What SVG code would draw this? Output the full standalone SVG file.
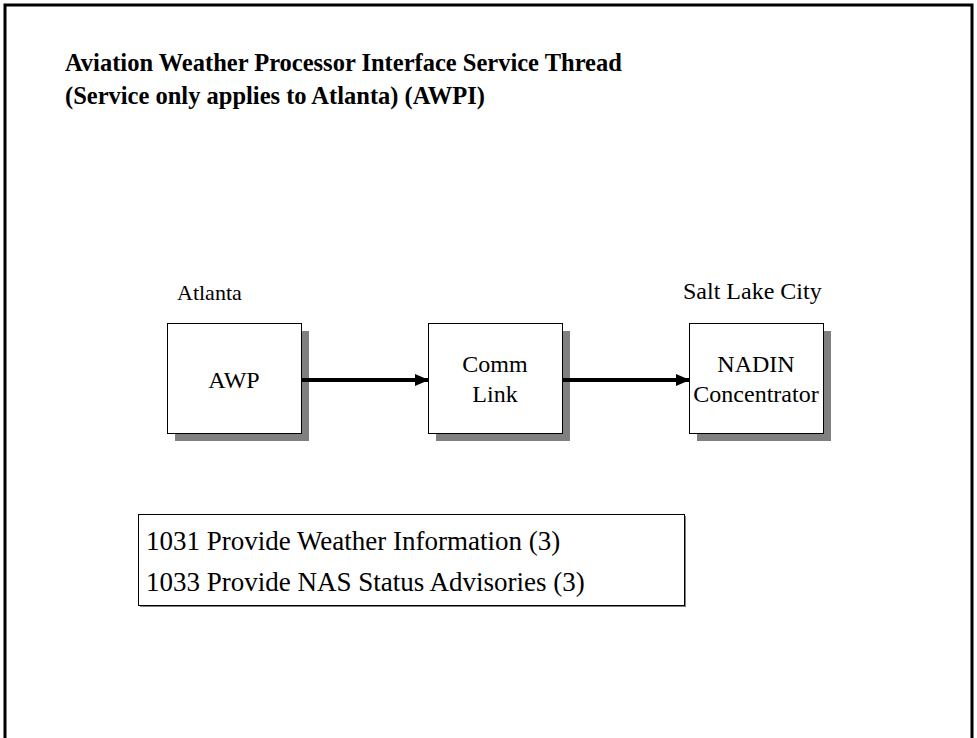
<svg xmlns="http://www.w3.org/2000/svg" width="977" height="738" viewBox="0 0 977 738">
<defs>
<style>
.t{font-family:"Liberation Serif","Times New Roman",serif;fill:#000}
.title{font-size:24.5px;font-weight:bold}
.box{fill:#fff;stroke:#000;stroke-width:1}
.sh{fill:#808080}
.lbl{font-size:24px;text-anchor:middle}
.conn{stroke:#000;stroke-width:4;fill:none}
.svc{font-size:27px}
</style>
<marker id="ah" markerWidth="14" markerHeight="12" refX="13" refY="6" orient="auto" markerUnits="userSpaceOnUse">
<path d="M0,0 L14,6 L0,12 Z" fill="#000"/>
</marker>
</defs>
<rect width="977" height="738" fill="#fff"/>
<path d="M5,738 V5 H972 V738" fill="none" stroke="#000" stroke-width="3"/>
<g id="title">
<text class="t title" x="65" y="71">Aviation Weather Processor Interface Service Thread</text>
<text class="t title" x="65" y="104">(Service only applies to Atlanta) (AWPI)</text>
</g>
<text class="t" x="177" y="300" font-size="22">Atlanta</text>
<text class="t" x="683" y="299" font-size="24">Salt Lake City</text>
<g id="awp">
<rect class="sh" x="175" y="331" width="134" height="110"/>
<rect class="box" x="167.5" y="323.5" width="134" height="110"/>
<text class="t lbl" x="234" y="388">AWP</text>
</g>
<g id="comm">
<rect class="sh" x="436" y="331" width="134" height="110"/>
<rect class="box" x="428.5" y="323.5" width="134" height="110"/>
<text class="t lbl" x="495" y="372">Comm</text>
<text class="t lbl" x="495" y="402">Link</text>
</g>
<g id="nadin">
<rect class="sh" x="697" y="331" width="134" height="110"/>
<rect class="box" x="689.5" y="323.5" width="134" height="110"/>
<text class="t lbl" x="756" y="372">NADIN</text>
<text class="t lbl" x="756" y="402">Concentrator</text>
</g>
<g id="connectors">
<line class="conn" x1="302" y1="380" x2="428" y2="380" marker-end="url(#ah)"/>
<line class="conn" x1="563" y1="380" x2="689" y2="380" marker-end="url(#ah)"/>
</g>
<g id="services">
<rect x="140" y="516" width="546" height="91" fill="#808080"/>
<rect class="box" x="138.5" y="514.5" width="546" height="91"/>
<text class="t svc" x="146" y="550">1031 Provide Weather Information (3)</text>
<text class="t svc" x="146" y="591">1033 Provide NAS Status Advisories (3)</text>
</g>
</svg>
